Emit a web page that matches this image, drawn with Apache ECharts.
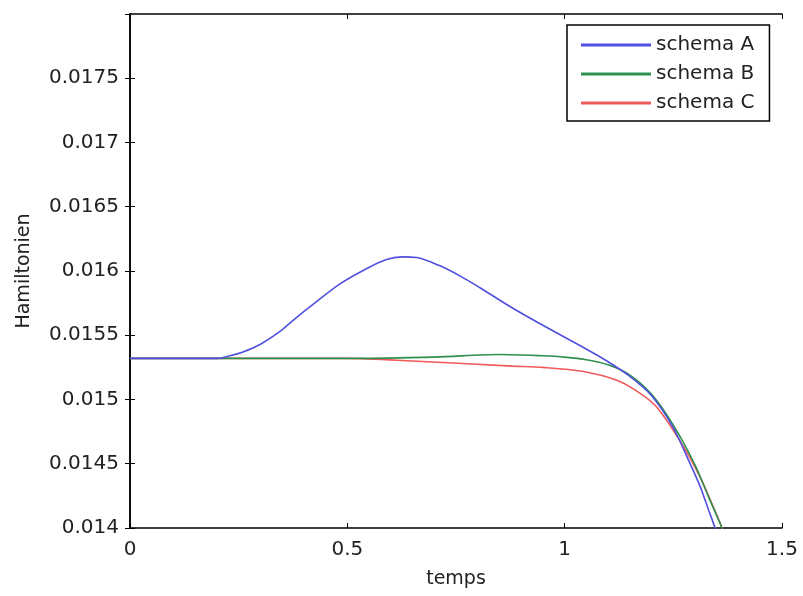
<!DOCTYPE html>
<html>
<head>
<meta charset="utf-8">
<script src="https://cdn.jsdelivr.net/npm/echarts@6/dist/echarts.min.js"></script>
<style>html,body{margin:0;padding:0;background:#fff;}#c{width:803px;height:596px;}</style>
</head>
<body>
<div id="c"></div>
<script>
var seriesNames = ['schema A', 'schema B', 'schema C'];
var tA = [0, 0.2, 0.23, 0.26, 0.3, 0.345, 0.38, 0.421, 0.483, 0.545, 0.59, 0.625, 0.66, 0.713, 0.76, 0.805, 0.881, 0.959, 1.035, 1.097, 1.15, 1.2, 1.25, 1.29, 1.311, 1.33, 1.346, 1.355];
var hA = [0.01532, 0.01532, 0.01534, 0.01537, 0.01543, 0.01553, 0.01563, 0.01574, 0.0159, 0.01602, 0.01609, 0.01611, 0.016105, 0.01604, 0.01596, 0.01587, 0.01571, 0.01556, 0.01542, 0.0153, 0.01518, 0.01503, 0.01478, 0.01449, 0.01433, 0.01415, 0.014, 0.0139];
var tB = [0, 0.5, 0.7, 0.85, 0.95, 1.0, 1.05, 1.1, 1.15, 1.2, 1.25, 1.3, 1.33, 1.362, 1.37];
var hB = [0.01532, 0.01532, 0.01533, 0.01535, 0.01534, 0.01533, 0.01531, 0.01527, 0.01519, 0.01504, 0.0148, 0.01449, 0.01425, 0.014, 0.01392];
var tC = [0, 0.5, 0.65, 0.88, 0.95, 1.04, 1.12, 1.173, 1.212, 1.265, 1.311, 1.34, 1.362, 1.37];
var hC = [0.01532, 0.01532, 0.0153, 0.01526, 0.01525, 0.01522, 0.01515, 0.01505, 0.01494, 0.01468, 0.0144, 0.01418, 0.014, 0.01392];
var colors = ['#5050e0', '#2e8f4e', '#f05a5a'];

function pairs(t, h) { return t.map(function (x, i) { return [x, h[i]]; }); }

var font = 'DejaVu Sans';
var chart = echarts.init(document.getElementById('c'));
var axisLine = { show: true, lineStyle: { color: '#000', width: 1.5 } };
var tick = { show: true, inside: true, length: 5, lineStyle: { color: '#000', width: 1 } };
var xBase = { type: 'value', min: 0, max: 1.5, interval: 0.5, splitLine: { show: false }, axisLine: axisLine, axisTick: tick };
var yBase = { type: 'value', min: 0.014, max: 0.018, interval: 0.0005, splitLine: { show: false }, axisLine: axisLine, axisTick: tick };

chart.setOption({
  animation: false,
  backgroundColor: '#fff',
  grid: { left: 130, right: 21, top: 14, bottom: 68, containLabel: false },
  xAxis: [
    Object.assign({}, xBase, {
      position: 'bottom',
      name: 'temps', nameLocation: 'middle', nameGap: 42,
      nameTextStyle: { fontFamily: font, fontSize: 19, color: '#222' },
      axisLabel: { fontFamily: font, fontSize: 20, color: '#222', margin: 12,
        formatter: function (v) { return String(+v.toFixed(3)); } }
    }),
    Object.assign({}, xBase, { position: 'top', axisLabel: { show: false } })
  ],
  yAxis: [
    Object.assign({}, yBase, {
      position: 'left',
      name: 'Hamiltonien', nameLocation: 'middle', nameGap: 96,
      nameTextStyle: { fontFamily: font, fontSize: 19, color: '#222' },
      axisLabel: { fontFamily: font, fontSize: 20, color: '#222', margin: 11, showMaxLabel: false,
        formatter: function (v) { return String(+v.toFixed(5)); } }
    }),
    Object.assign({}, yBase, { position: 'right', axisLabel: { show: false } })
  ],
  legend: {
    orient: 'vertical', left: 567, top: 25,
    backgroundColor: '#fff', borderColor: '#000', borderWidth: 1.5, borderRadius: 0,
    padding: [10, 15, 8, 14], itemGap: 9, itemWidth: 70, itemHeight: 3, icon: 'rect',
    textStyle: { fontFamily: font, fontSize: 20, color: '#222' },
    data: seriesNames
  },
  series: [
    { name: seriesNames[0], type: 'line', data: pairs(tA, hA) },
    { name: seriesNames[1], type: 'line', data: pairs(tB, hB) },
    { name: seriesNames[2], type: 'line', data: pairs(tC, hC) }
  ].map(function (s, i) {
    return Object.assign(s, {
      xAxisIndex: 0, yAxisIndex: 0, showSymbol: false, symbol: 'none', smooth: 0.3, clip: true,
      color: colors[i], lineStyle: { color: colors[i], width: 1.6 }, z: 3 - i
    });
  })
});
</script>
</body>
</html>
